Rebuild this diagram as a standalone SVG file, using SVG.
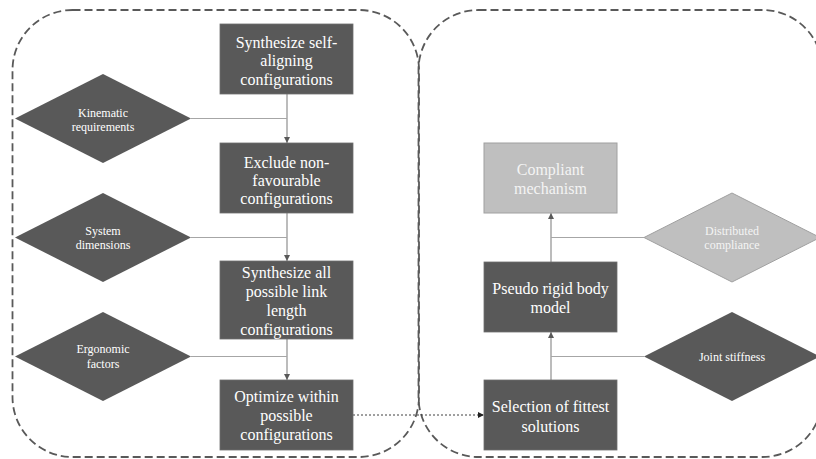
<svg xmlns="http://www.w3.org/2000/svg" width="816" height="459" viewBox="0 0 816 459">
<defs>
<style>
.cont{fill:none;stroke:#595959;stroke-width:1.8;stroke-dasharray:8 4}
.box{fill:#595959;stroke:#6e6e6e;stroke-width:0.8}
.lbox{fill:#bfbfbf;stroke:#a0a0a0;stroke-width:1}
.dia{fill:#595959}
.ldia{fill:#bfbfbf;stroke:#a0a0a0;stroke-width:1}
.bt{font-family:"Liberation Serif","Times New Roman",serif;font-size:16px;fill:#ffffff;text-anchor:middle}
.dt{font-family:"Liberation Serif","Times New Roman",serif;font-size:12px;fill:#ffffff;text-anchor:middle}
.lt{fill:#f4f4f4}
.vl{stroke:#a6a6a6;stroke-width:1.5;fill:none}
.hl{stroke:#a6a6a6;stroke-width:1.2;fill:none}
.dot{stroke:#404040;stroke-width:1;stroke-dasharray:2 2;fill:none}
</style>
<marker id="ah" viewBox="0 0 10 10" refX="10" refY="5" markerWidth="6" markerHeight="6" markerUnits="userSpaceOnUse" orient="auto">
<path d="M0,0 L10,5 L0,10 z" fill="#595959"/>
</marker>
<marker id="ahk" viewBox="0 0 10 10" refX="10" refY="5" markerWidth="6" markerHeight="6" markerUnits="userSpaceOnUse" orient="auto">
<path d="M0,0 L10,5 L0,10 z" fill="#222222"/>
</marker>
</defs>
<rect width="816" height="459" fill="#ffffff"/>
<g id="containers">
<rect id="left-container" class="cont" x="12.5" y="10" width="406.5" height="447" rx="60" ry="60"/>
<rect id="right-container" class="cont" x="418.5" y="10" width="404" height="447" rx="60" ry="60"/>
</g>
<g id="connectors">
<line class="vl" x1="287" y1="94" x2="287" y2="143" marker-end="url(#ah)"/>
<line class="vl" x1="287" y1="213" x2="287" y2="261" marker-end="url(#ah)"/>
<line class="vl" x1="287" y1="339" x2="287" y2="380" marker-end="url(#ah)"/>
<line class="hl" x1="191" y1="118.5" x2="287" y2="118.5"/>
<line class="hl" x1="191" y1="237.5" x2="287" y2="237.5"/>
<line class="hl" x1="191" y1="356.5" x2="287" y2="356.5"/>
<line class="vl" x1="551" y1="380" x2="551" y2="332" marker-end="url(#ah)"/>
<line class="vl" x1="551" y1="262" x2="551" y2="213" marker-end="url(#ah)"/>
<line class="hl" x1="644" y1="356.5" x2="551" y2="356.5"/>
<line class="hl" x1="644" y1="237.5" x2="551" y2="237.5"/>
<line class="dot" x1="353" y1="415" x2="484" y2="415" marker-end="url(#ahk)"/>
</g>
<g id="n-synth-self">
<rect class="box" x="220" y="24" width="133" height="70"/>
<text class="bt" x="286.5" y="47.5">Synthesize self-</text>
<text class="bt" x="286.5" y="66">aligning</text>
<text class="bt" x="286.5" y="84.5">configurations</text>
</g>
<g id="n-exclude">
<rect class="box" x="220" y="143" width="133" height="70"/>
<text class="bt" x="286.5" y="167.5">Exclude non-</text>
<text class="bt" x="286.5" y="185.5">favourable</text>
<text class="bt" x="286.5" y="203.5">configurations</text>
</g>
<g id="n-synth-all">
<rect class="box" x="220" y="261" width="133" height="78"/>
<text class="bt" x="286.5" y="278">Synthesize all</text>
<text class="bt" x="286.5" y="297">possible link</text>
<text class="bt" x="286.5" y="316">length</text>
<text class="bt" x="286.5" y="335">configurations</text>
</g>
<g id="n-optimize">
<rect class="box" x="220" y="380" width="133" height="70"/>
<text class="bt" x="286.5" y="402">Optimize within</text>
<text class="bt" x="286.5" y="421">possible</text>
<text class="bt" x="286.5" y="440">configurations</text>
</g>
<g id="n-kinematic">
<polygon class="dia" points="15,118.5 103,74 191,118.5 103,163"/>
<text class="dt" x="103" y="117">Kinematic</text>
<text class="dt" x="103" y="131">requirements</text>
</g>
<g id="n-system">
<polygon class="dia" points="15,237.5 103,193 191,237.5 103,282"/>
<text class="dt" x="103" y="235">System</text>
<text class="dt" x="103" y="249">dimensions</text>
</g>
<g id="n-ergonomic">
<polygon class="dia" points="15,356.5 103,312 191,356.5 103,401"/>
<text class="dt" x="103" y="353">Ergonomic</text>
<text class="dt" x="103" y="368">factors</text>
</g>
<g id="n-compliant">
<rect class="lbox" x="484" y="143" width="133" height="70"/>
<text class="bt lt" x="550.5" y="174.5">Compliant</text>
<text class="bt lt" x="550.5" y="193.5">mechanism</text>
</g>
<g id="n-prbm">
<rect class="box" x="484" y="262" width="133" height="70"/>
<text class="bt" x="550.5" y="294">Pseudo rigid body</text>
<text class="bt" x="550.5" y="313">model</text>
</g>
<g id="n-selection">
<rect class="box" x="484" y="380" width="133" height="70"/>
<text class="bt" x="550.5" y="412">Selection of fittest</text>
<text class="bt" x="550.5" y="431.5">solutions</text>
</g>
<g id="n-distributed">
<polygon class="ldia" points="644,237.5 732,193 820,237.5 732,282"/>
<text class="dt lt" x="732" y="235">Distributed</text>
<text class="dt lt" x="732" y="249">compliance</text>
</g>
<g id="n-joint">
<polygon class="dia" points="644,356.5 732,312 820,356.5 732,401"/>
<text class="dt" x="732" y="361">Joint stiffness</text>
</g>
</svg>
